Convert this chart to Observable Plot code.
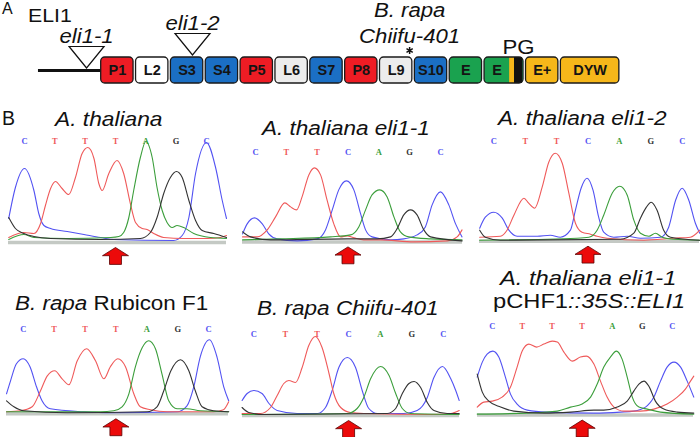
<!DOCTYPE html>
<html><head><meta charset="utf-8">
<script src="https://cdn.jsdelivr.net/npm/d3@7"></script>
<script src="https://cdn.jsdelivr.net/npm/@observablehq/plot@0.6"></script>
<style>
body{margin:0;background:#fff;}
#fig{position:relative;width:700px;height:437px;overflow:hidden;background:#fff;font-family:"Liberation Sans",Arial,sans-serif;color:#111;}
.lbl{position:absolute;white-space:pre;transform-origin:0 0;}
.pan{position:absolute;}
</style></head><body><div id="fig"></div>
<script>
// ================= DATA: panel A (gene model) =================
const domainNames   = ["P1","L2","S3","S4","P5","L6","S7","P8","L9","S10","E","E","E+","DYW"];
const domainTypes   = ["P","L1","S","S","P","L2","S","P","L2","S","E","E","E+","DYW"];
const domainLengths = [1,1,1,1,1,1,1,1,1,1,1,1.19,1,1.75];
const leaderLength  = 1.8;
const pgPartTypes = ["PGy","PG"];
const pgPartFrom  = [11.72, 11.86];
const pgPartTo    = [11.86, 12.09];
const insertionNames     = ["eli1-1","eli1-2"];
const insertionPositions = [-0.42, 2.62];
const variantSpecies   = ["B. rapa"];
const variantLines     = ["Chiifu-401"];
const variantPositions = [8.85];
const typeDomain = ["P","L1","L2","S","E","E+","DYW","PGy","PG"];
const typeColors = ["#ee1c24","#ffffff","#ececec","#1b6fc4","#1aa24f","#f6b71a","#f6b71a","#f6b71a","#111111"];

// ================= DATA: panel B (chromatograms) =================
const baseDomain = ["C","T","A","G"];
const baseColors = ["#5252f2","#ef5a5a","#3b9e3b","#333333"];
const seq1 = ["C","T","T","T","A","G","C"];
const seq2 = ["C","T","T","C","A","G","C"];
const seq3 = ["C","T","T","C","A","G","C"];
const seq4 = ["C","T","T","T","A","G","C"];
const seq5 = ["C","T","T","C","A","G","C"];
const seq6 = ["C","T","T","T","A","G","C"];
const markedBase = [3,3,3,3,3,3];

// traces: [base position, signal]
const p1C = [[-0.52,24],[-0.3,55],[0,74],[0.31,52],[0.47,29],[0.64,17],[0.86,14],[1.41,11],[1.96,8],[2.51,5],[2.95,3],[4.92,2],[5.2,7],[5.42,25],[5.64,69],[6,100],[6.3,75],[6.52,42],[6.66,24]];
const p1T = [[-0.52,5],[-0.02,10],[0.31,9],[0.53,19],[0.69,37],[0.86,54],[1.02,61],[1.24,54],[1.46,48],[1.68,65],[1.9,89],[2.09,95],[2.29,84],[2.45,59],[2.56,52],[2.78,69],[3.05,82],[3.27,69],[3.49,39],[3.66,20],[3.88,14],[4.04,13],[4.26,9],[4.59,5],[5.25,4],[6.02,4],[6.46,5],[6.66,7]];
const p1A = [[-0.52,3],[-0.02,8],[0.31,5],[1.41,4],[2.84,5],[3.11,6],[3.27,10],[3.44,25],[3.6,52],[3.82,85],[4,101],[4.21,85],[4.37,55],[4.54,32],[4.7,20],[4.87,15],[5.03,17],[5.25,15],[5.58,9],[6.13,5],[6.66,4]];
const p1G = [[-0.52,25],[-0.3,14],[-0.02,9],[0.31,6],[0.86,4],[2.51,3],[3.82,4],[4.15,10],[4.37,25],[4.59,49],[4.81,65],[5.01,71],[5.2,65],[5.42,42],[5.64,22],[5.86,12],[6.24,9],[6.66,5]];

const p2C = [[-0.42,8],[-0.27,18],[-0.03,24],[0.22,18],[0.43,8],[0.7,3],[1.35,1],[2.0,3],[2.27,12],[2.49,32],[2.7,52],[2.95,61],[3.19,52],[3.41,28],[3.57,12],[3.78,5],[4.38,2],[4.81,3],[5.24,7],[5.51,15],[5.73,37],[6.0,50],[6.27,37],[6.49,18],[6.7,5]];
const p2T = [[-0.42,5],[0.05,5],[0.38,12],[0.65,25],[0.95,39],[1.14,35],[1.33,32],[1.51,45],[1.73,67],[1.91,74],[2.11,67],[2.32,42],[2.54,18],[2.76,5],[2.97,6],[3.2,4],[3.51,2],[4.05,2],[5.14,0],[6.22,1],[6.54,5],[6.7,12]];
const p2A = [[-0.42,2],[0.81,3],[2.43,5],[3.08,7],[3.35,15],[3.57,32],[3.78,47],[4.03,52],[4.27,45],[4.49,25],[4.7,10],[4.97,5],[5.68,3],[6.7,2]];
const p2G = [[-0.42,10],[-0.16,5],[0.49,2],[2.97,3],[3.95,3],[4.38,5],[4.59,13],[4.81,27],[5.03,32],[5.24,27],[5.46,12],[5.68,5],[6.7,1]];

const p3C = [[-0.45,13],[-0.27,24],[0,29],[0.27,23],[0.48,11],[0.74,5],[1.38,5],[1.8,6],[2.12,4],[2.44,11],[2.6,31],[2.78,53],[2.97,63],[3.16,51],[3.34,24],[3.5,9],[3.82,4],[4.25,5],[4.67,3],[5.31,4],[5.57,14],[5.79,41],[6.0,53],[6.21,41],[6.42,18],[6.56,8]];
const p3T = [[-0.45,4],[0.21,5],[0.42,11],[0.64,26],[0.96,43],[1.11,38],[1.3,33],[1.54,54],[1.75,79],[1.96,88],[2.18,78],[2.39,48],[2.6,18],[2.81,9],[3.08,7],[3.29,5],[3.61,3],[4.78,1],[5.73,3],[6.26,4],[6.56,11]];
const p3A = [[-0.45,1],[2.65,3],[3.03,4],[3.29,11],[3.5,26],[3.77,48],[4.01,55],[4.25,46],[4.46,21],[4.67,8],[4.94,5],[5.15,8],[5.36,4],[5.73,2],[6.56,1]];
const p3G = [[-0.45,11],[-0.27,4],[0.21,1],[4.03,2],[4.46,8],[4.67,23],[4.86,34],[5.01,39],[5.2,31],[5.41,11],[5.63,4],[6.56,1]];

const p4C = [[-0.54,20],[-0.41,33],[-0.22,50],[0,55],[0.22,47],[0.43,27],[0.61,13],[0.88,5],[1.96,2],[2.82,1],[4.98,2],[5.3,8],[5.52,27],[5.73,57],[6.03,74],[6.27,57],[6.49,27],[6.65,13]];
const p4T = [[-0.54,2],[-0.09,3],[0.29,7],[0.56,23],[0.78,38],[1.02,43],[1.26,35],[1.48,29],[1.75,53],[2.05,65],[2.34,53],[2.61,35],[2.82,47],[3.06,55],[3.31,47],[3.58,20],[3.79,7],[4.12,4],[4.66,2],[6.16,2],[6.48,4],[6.65,12]];
const p4A = [[-0.54,2],[2.5,2],[2.93,3],[3.2,7],[3.42,20],[3.63,47],[3.85,66],[4.06,73],[4.28,65],[4.49,40],[4.71,13],[4.98,5],[5.3,5],[5.73,3],[6.65,2]];
const p4G = [[-0.54,13],[-0.3,7],[0.02,3],[1.42,1],[4.01,2],[4.33,7],[4.55,23],[4.78,43],[5.09,54],[5.36,43],[5.57,23],[5.79,7],[6.16,3],[6.65,2]];

const p5C = [[-0.37,15],[-0.21,22],[0,25],[0.26,22],[0.48,12],[0.74,5],[1.37,2],[2.01,2],[2.27,8],[2.48,25],[2.69,48],[2.96,58],[3.22,48],[3.43,25],[3.64,7],[3.91,2],[4.75,2],[5.17,5],[5.49,18],[5.7,38],[5.97,49],[6.23,37],[6.39,25],[6.5,15]];
const p5T = [[-0.37,2],[0.21,2],[0.53,8],[0.74,20],[0.95,32],[1.11,35],[1.32,33],[1.53,48],[1.74,70],[1.95,79],[2.16,68],[2.38,42],[2.53,22],[2.75,8],[3.06,3],[3.48,2],[5.6,1],[6.23,2],[6.5,5]];
const p5A = [[-0.37,1],[2.96,2],[3.27,7],[3.48,18],[3.7,37],[4.01,49],[4.28,40],[4.49,22],[4.7,7],[4.96,2],[6.5,1]];
const p5G = [[-0.37,8],[-0.16,3],[0.32,1],[4.22,2],[4.49,7],[4.7,22],[4.91,32],[5.07,34],[5.28,28],[5.49,13],[5.7,5],[6.12,2],[6.5,2]];

const p6C = [[-0.5,38],[-0.33,53],[-0.17,61],[0.02,64],[0.22,58],[0.44,38],[0.61,21],[0.83,11],[1.17,5],[1.83,3],[3.39,2],[4.28,3],[4.72,4],[5.11,8],[5.39,18],[5.61,34],[5.83,48],[6.06,53],[6.28,48],[6.5,34],[6.72,18]];
const p6T = [[-0.5,8],[-0.28,13],[0,14],[0.33,18],[0.61,28],[0.83,48],[1.0,64],[1.22,71],[1.48,68],[1.72,71],[2.0,74],[2.17,73],[2.39,63],[2.67,54],[2.94,58],[3.14,59],[3.39,51],[3.61,34],[3.83,18],[4.06,8],[4.39,4],[4.94,4],[5.39,6],[5.83,11],[6.17,18],[6.44,26],[6.61,34],[6.72,39]];
const p6A = [[-0.5,1],[1.17,2],[2.17,4],[2.61,8],[3.0,11],[3.28,18],[3.5,31],[3.72,48],[3.94,58],[4.14,64],[4.33,56],[4.5,38],[4.67,18],[4.89,8],[5.17,6],[5.61,3],[6.72,1]];
const p6G = [[-0.5,41],[-0.33,23],[-0.11,14],[0.28,8],[0.72,4],[1.72,2],[2.61,3],[3.39,5],[3.72,5],[4.17,8],[4.5,14],[4.72,24],[4.89,31],[5.06,34],[5.22,29],[5.44,14],[5.72,6],[6.17,3],[6.72,2]];

// ================= build =================
const fig = document.getElementById("fig");
const K = 1.15; // horizontal stretch of the figure's lettering

function addLabel(parts, left, baseline, fs, k) {
  const el = document.createElement("div");
  el.className = "lbl";
  el.style.left = left + "px";
  el.style.top = (baseline - 0.8465 * fs) + "px";
  el.style.fontSize = fs + "px";
  el.style.lineHeight = fs + "px";
  el.style.transform = `scaleX(${k})`;
  parts.forEach(([t, it]) => {
    const s = document.createElement("span");
    s.textContent = t;
    if (it) s.style.fontStyle = "italic";
    el.appendChild(s);
  });
  fig.appendChild(el);
}
function place(svg, left, top) {
  const d = document.createElement("div");
  d.className = "pan";
  d.style.left = left + "px";
  d.style.top = top + "px";
  d.appendChild(svg);
  fig.appendChild(d);
}
function stretch(svg, k) {
  svg.querySelectorAll('g[aria-description="stretch"] text').forEach(t => {
    const spans = t.querySelectorAll("tspan");
    (spans.length ? Array.from(spans) : [t]).forEach(s => {
      s.setAttribute("textLength", s.getComputedTextLength() * k);
      s.setAttribute("lengthAdjust", "spacingAndGlyphs");
    });
  });
}

// ---------- panel A ----------
let acc = 0;
const domains = domainNames.map((name, i) => {
  const d = {name, type: domainTypes[i], start: acc, end: acc + domainLengths[i]};
  acc += domainLengths[i];
  return d;
});
const pgParts = pgPartTypes.map((type, i) => ({type, from: pgPartFrom[i], to: pgPartTo[i]}));
const insertions = insertionNames.map((name, i) => ({name, pos: insertionPositions[i]}));
const variants = variantSpecies.map((species, i) => ({species, line: variantLines[i], pos: variantPositions[i]}));

const pitch = 34.85, originPx = 100.7, insetPx = 2.5;
const labelX = d => {
  const pg = pgParts.find(p => p.from > d.start && p.from < d.end);
  return (d.start + (pg ? pg.from : d.end - insetPx / pitch)) / 2;
};
const insY = d => d.pos >= 0 ? 1 : 0;
const triangleDown = {draw(ctx, size) {
  const r = Math.sqrt(size / Math.PI), h = r * 1.23;
  ctx.moveTo(0, 0); ctx.lineTo(-r, -h); ctx.lineTo(r, -h); ctx.closePath();
}};
const annFont = 19.3;

const plotA = Plot.plot({
  width: 700, height: 90, marginTop: 0, marginRight: 0, marginBottom: 0, marginLeft: 0,
  x: {domain: [-originPx / pitch, (700 - originPx) / pitch], axis: null},
  y: {domain: [-20 / 13, 70 / 13], axis: null},
  color: {domain: typeDomain, range: typeColors},
  style: {background: "transparent", overflow: "visible", fontFamily: "'Liberation Sans', Arial, sans-serif"},
  marks: [
    Plot.ruleY([0], {x1: -leaderLength, x2: 0, stroke: "#111", strokeWidth: 3}),
    Plot.rect(domains, {x1: "start", x2: "end", y1: -1, y2: 1, insetRight: insetPx, rx: 4, fill: "type"}),
    Plot.rect(pgParts, {x1: "from", x2: "to", y1: -1, y2: 1, fill: "type"}),
    Plot.rect(domains, {x1: "start", x2: "end", y1: -1, y2: 1, insetRight: insetPx, rx: 4, fill: "none", stroke: "#1a1a1a", strokeWidth: 1.3}),
    Plot.text(domains, {x: labelX, y: 0, text: "name", fontWeight: "bold", fontSize: 14.5, fill: "#141414"}),
    Plot.dot(insertions, {x: "pos", y: insY, dy: -2.5, r: 17.5, symbol: triangleDown, fill: "white", stroke: "#111", strokeWidth: 1.2}),
    Plot.text(insertions, {x: "pos", y: insY, dy: -28, text: "name", lineAnchor: "bottom", fontStyle: "italic", fontSize: annFont, fill: "#111", ariaDescription: "stretch"}),
    Plot.dot(variants, {x: "pos", y: 1, dy: -7, symbol: "asterisk", r: 3.4, stroke: "#111", strokeWidth: 1.5}),
    Plot.text(variants, {x: "pos", y: 1, dy: -14.5, text: "line", lineAnchor: "bottom", fontStyle: "italic", fontSize: annFont, fill: "#111", ariaDescription: "stretch"}),
    Plot.text(variants, {x: "pos", y: 1, dy: -41, text: "species", lineAnchor: "bottom", fontStyle: "italic", fontSize: annFont, fill: "#111", ariaDescription: "stretch"}),
    Plot.text(pgParts.filter(p => p.type === "PG"), {x: d => (d.from + d.to) / 2, y: 1, dy: -4, text: () => "PG", lineAnchor: "bottom", fontSize: annFont, fill: "#111", ariaDescription: "stretch"})
  ]
});
place(plotA, 0, 0);
stretch(plotA, K);

// ---------- panel B ----------
const arrowUp = {draw(ctx, size) {
  const r = Math.sqrt(size / Math.PI), hh = r * 0.63, sw = r * 0.46, L = r * 1.3;
  ctx.moveTo(0, 0); ctx.lineTo(r, hh); ctx.lineTo(sw, hh); ctx.lineTo(sw, L);
  ctx.lineTo(-sw, L); ctx.lineTo(-sw, hh); ctx.lineTo(-r, hh); ctx.closePath();
}};

const panels = [
  {seq: seq1, tr: {C: p1C, T: p1T, A: p1A, G: p1G}, xs: 8,   xe: 226, x0: 24,    dx: 30.33, base: 242,   top: 137},
  {seq: seq2, tr: {C: p2C, T: p2T, A: p2A, G: p2G}, xs: 242, xe: 462, x0: 255,   dx: 30.83, base: 241.7, top: 148.3},
  {seq: seq3, tr: {C: p3C, T: p3T, A: p3A, G: p3G}, xs: 479, xe: 699, x0: 493.3, dx: 31.4,  base: 241,   top: 137.3},
  {seq: seq4, tr: {C: p4C, T: p4T, A: p4A, G: p4G}, xs: 6,   xe: 228, x0: 22.7,  dx: 30.9,  base: 413.3, top: 325},
  {seq: seq5, tr: {C: p5C, T: p5T, A: p5A, G: p5G}, xs: 242, xe: 459, x0: 253.3, dx: 31.6,  base: 415,   top: 330},
  {seq: seq6, tr: {C: p6C, T: p6T, A: p6A, G: p6G}, xs: 477, xe: 693, x0: 491.7, dx: 30,    base: 414.3, top: 321.7}
];

panels.forEach((p, k) => {
  const rows = baseDomain.flatMap(b => p.tr[b].map(([u, v]) => ({base: b, u, v})));
  const mt = 10, mb = 24;
  const svg = Plot.plot({
    width: p.xe - p.xs, height: (p.base - p.top) + mt + mb,
    marginLeft: 0, marginRight: 0, marginTop: mt, marginBottom: mb,
    x: {domain: [(p.xs - p.x0) / p.dx, (p.xe - p.x0) / p.dx], axis: null},
    y: {domain: [0, p.base - p.top], axis: null},
    color: {domain: baseDomain, range: baseColors},
    style: {background: "transparent", overflow: "visible"},
    marks: [
      Plot.ruleY([0], {stroke: "#c4c9c4", strokeWidth: 3.5}),
      Plot.line(rows, {x: "u", y: "v", z: "base", stroke: "base", curve: "monotone-x", strokeWidth: 1.1}),
      Plot.text(p.seq, {x: (d, i) => i, text: d => d, fill: d => d, frameAnchor: "top", fontFamily: "'Liberation Serif', serif", fontWeight: "bold", fontSize: 8.5}),
      Plot.dot([markedBase[k]], {x: d => d, frameAnchor: "bottom", dy: 5, r: 13, symbol: arrowUp, fill: "#ec0a0a", stroke: "#5a0000", strokeWidth: 0.8})
    ]
  });
  place(svg, p.xs, p.top - mt);
});

// ---------- text labels ----------
addLabel([["A", 0]], 2, 15, 16, 1);
addLabel([["ELI1", 0]], 28, 23, 18.5, K);
addLabel([["B", 0]], 2, 125.3, 19.5, 1);
addLabel([["A. thaliana", 1]], 55, 127, 19.8, K);
addLabel([["A. thaliana eli1-1", 1]], 262, 136, 19.6, K);
addLabel([["A. thaliana eli1-2", 1]], 498, 126, 19.7, K);
addLabel([["B. rapa", 1], [" Rubicon F1", 0]], 15, 311, 19.5, K);
addLabel([["B. rapa Chiifu-401", 1]], 257, 316, 19.6, K);
addLabel([["A. thaliana eli1-1", 1]], 500, 285, 20.6, K);
addLabel([["pCHF1", 0], ["::35S::ELI1", 1]], 493, 308, 20.6, K);
</script>
</body></html>
